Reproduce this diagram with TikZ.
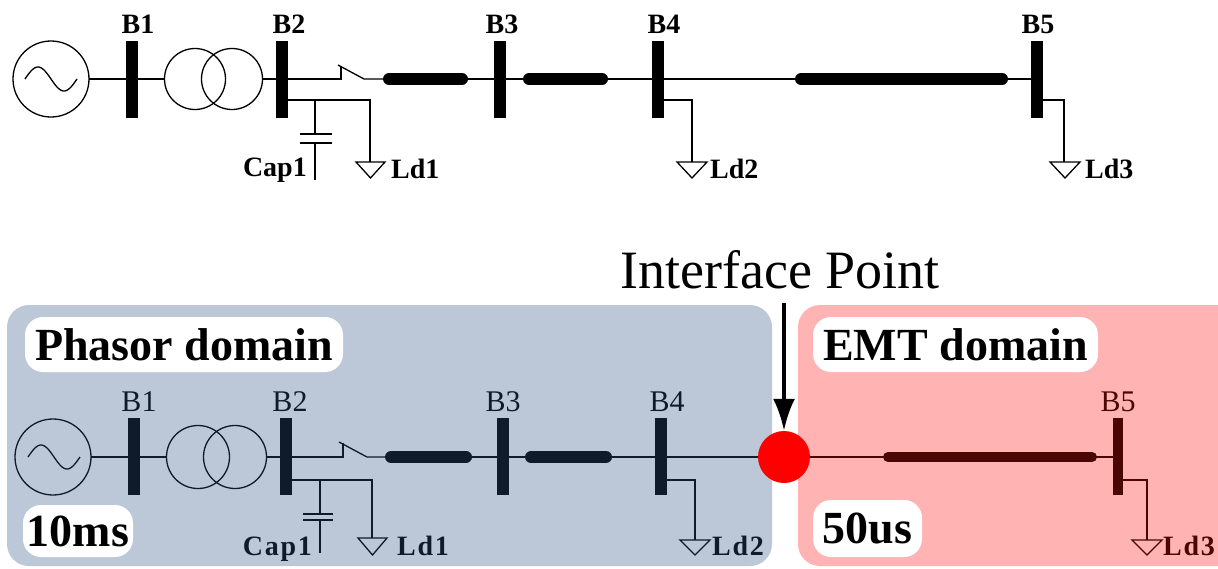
\documentclass[tikz,border=0pt]{standalone}
\usepackage{fontspec}
\setmainfont{Liberation Serif}
\newfontfamily\lblfont[LetterSpace=6]{Liberation Serif}
\usetikzlibrary{arrows.meta}
\definecolor{phasorbg}{HTML}{BCC8D8}
\definecolor{emtbg}{HTML}{FFB3B3}
\definecolor{phasorink}{HTML}{0F1A2B}
\definecolor{emtink}{HTML}{4A0505}
\definecolor{dotred}{HTML}{FF0000}
\begin{document}
\begin{tikzpicture}[x=1pt,y=-1pt,
  wire/.style={line width=1.3pt},
  busbar/.style={line width=12pt},
  tline/.style={line width=12pt,line cap=round},
  toplbl/.style={font=\fontsize{28}{30}\selectfont\bfseries,inner sep=0pt},
  botlbl/.style={font=\fontsize{30}{32}\selectfont,inner sep=0pt},
  botld/.style={font=\lblfont\fontsize{28}{30}\selectfont\bfseries,inner sep=0pt},
  tag/.style={fill=white,rounded corners=18pt,inner sep=0pt,font=\fontsize{46}{48}\selectfont\bfseries}
]
\useasboundingbox (0,0) rectangle (1218,568);

% ================= TOP DIAGRAM =================
\coordinate (src) at (51,79);
\draw[wire] (src) circle (38);
\draw[wire] plot[domain=0:1,samples=50] ({25+52*\x},{79-12*sin(360*\x)});
\coordinate (b1) at (132,79);
\coordinate (b2) at (282,79);
\coordinate (b3) at (500,79);
\coordinate (b4) at (658,79);
\coordinate (b5) at (1037,79);
\draw[busbar] (132,41) -- (132,118);
\draw[busbar] (282,41) -- (282,118);
\draw[busbar] (500,41) -- (500,118);
\draw[busbar] (658,41) -- (658,118);
\draw[busbar] (1037,41) -- (1037,118);
\draw[wire] (195,79) circle (30.5);
\draw[wire] (232,79) circle (30.5);
\draw[wire] (89,79) -- (b1) -- (164.5,79);
\draw[wire] (262.5,79) -- (b2) -- (341,79) -- (341,66);
\draw[wire] (338,65) -- (364,79) -- (389,79);
\draw[tline] (389,79) -- (462,79);
\draw[wire] (462,79) -- (b3) -- (529,79);
\draw[tline] (529,79) -- (602,79);
\draw[wire] (602,79) -- (b4) -- (801,79);
\draw[tline] (801,79) -- (1002,79);
\draw[wire] (1002,79) -- (b5);
% branches
\draw[wire] (282,100) -- (370,100) -- (370,162);
\draw[wire] (356,162) -- (385,162) -- (370.5,178) -- cycle;
\draw[wire] (315,100) -- (315,134);
\draw[wire] (300,134) -- (332,134);
\draw[wire] (300,143) -- (332,143);
\draw[wire] (315,143) -- (315,180);
\draw[wire] (658,100) -- (692,100) -- (692,162);
\draw[wire] (677,162) -- (707,162) -- (692,178) -- cycle;
\draw[wire] (1037,100) -- (1064,100) -- (1064,162);
\draw[wire] (1050,162) -- (1080,162) -- (1065,178) -- cycle;
% labels
\node[toplbl,anchor=base] (tB1) at (138,33) {B1};
\node[toplbl,anchor=base] (tB2) at (289,33) {B2};
\node[toplbl,anchor=base] (tB3) at (502,33) {B3};
\node[toplbl,anchor=base] (tB4) at (664,33) {B4};
\node[toplbl,anchor=base] (tB5) at (1038,33) {B5};
\node[toplbl,anchor=base east] (tCap) at (307,176) {Cap1};
\node[toplbl,anchor=base west] (tLd1) at (391,178) {Ld1};
\node[toplbl,anchor=base west] (tLd2) at (710,178) {Ld2};
\node[toplbl,anchor=base west] (tLd3) at (1085,178) {Ld3};

% ================= BOTTOM DIAGRAM =================
\fill[phasorbg,rounded corners=22pt] (7,305) rectangle (772,566);
\fill[emtbg,rounded corners=22pt] (798,305) rectangle (1250,566);

\node[anchor=base,inner sep=0pt,font=\fontsize{54}{56}\selectfont] (ip) at (780,288) {Interface Point};

\begin{scope}[draw=phasorink,color=phasorink]
\coordinate (src2) at (53,457);
\draw[wire] (src2) circle (38);
\draw[wire] plot[domain=0:1,samples=50] ({28+52*\x},{457-12*sin(360*\x)});
\coordinate (c1) at (134,457);
\coordinate (c2) at (286,457);
\coordinate (c3) at (503,457);
\coordinate (c4) at (661,457);
\draw[busbar] (134,418) -- (134,495);
\draw[busbar] (286,418) -- (286,495);
\draw[busbar] (503,418) -- (503,495);
\draw[busbar] (661,418) -- (661,495);
\draw[wire] (198,457) circle (31.5);
\draw[wire] (235,457) circle (31.5);
\draw[wire] (91,457) -- (c1) -- (166.5,457);
\draw[wire] (266.5,457) -- (c2) -- (343,457) -- (343,443);
\draw[wire] (339,442) -- (367,457) -- (391,457);
\draw[tline] (391,457) -- (466,457);
\draw[wire] (466,457) -- (c3) -- (531,457);
\draw[tline] (531,457) -- (606,457);
\draw[wire] (606,457) -- (c4) -- (770,457);
\draw[wire] (286,480) -- (372,480) -- (372,538);
\draw[wire] (358,538) -- (387,538) -- (372.5,555) -- cycle;
\draw[wire] (320,480) -- (320,514);
\draw[wire] (303,514) -- (333,514);
\draw[wire] (303,520) -- (333,520);
\draw[wire] (320,520) -- (320,553);
\draw[wire] (661,480) -- (695,480) -- (695,540);
\draw[wire] (680,540) -- (710,540) -- (695,555) -- cycle;
\node[botlbl,anchor=base] (pB1) at (139,411) {B1};
\node[botlbl,anchor=base] (pB2) at (290,411) {B2};
\node[botlbl,anchor=base] (pB3) at (503,411) {B3};
\node[botlbl,anchor=base] (pB4) at (667,411) {B4};
\node[botld,anchor=base east] (pCap) at (312,555) {Cap1};
\node[botld,anchor=base west] (pLd1) at (397,555) {Ld1};
\node[botld,anchor=base west] (pLd2) at (712,555) {Ld2};
\end{scope}

\begin{scope}[draw=emtink,color=emtink]
\coordinate (c5) at (1118,457);
\draw[wire] (800,457) -- (888,457);
\draw[line width=10pt,line cap=round] (888,457) -- (1092,457);
\draw[wire] (1092,457) -- (c5);
\draw[line width=10pt] (1118,418) -- (1118,495);
\draw[wire] (1118,480) -- (1147,480) -- (1147,540);
\draw[wire] (1132,540) -- (1162,540) -- (1147,555) -- cycle;
\node[botlbl,anchor=base] (eB5) at (1118,411) {B5};
\node[botld,anchor=base west] (eLd3) at (1163,555) {Ld3};
\end{scope}

\node[circle,fill=dotred,minimum size=52pt,inner sep=0pt] (dot) at (784,457) {};
\coordinate (arrtop) at (784,303);
\draw[line width=4pt,-{Latex[length=32pt,width=22pt]}] (arrtop) -- (dot.north);

\node[tag,minimum width=318pt,minimum height=55pt] (phtag) at (184,344.5) {Phasor domain};
\node[tag,minimum width=110pt,minimum height=52pt] (tstag) at (78,531) {10ms};
\node[tag,minimum width=285pt,minimum height=55pt] (emtag) at (955.5,344.5) {EMT domain};
\node[tag,minimum width=109pt,minimum height=57pt] (ustag) at (867.5,528.5) {50us};
\end{tikzpicture}
\end{document}
